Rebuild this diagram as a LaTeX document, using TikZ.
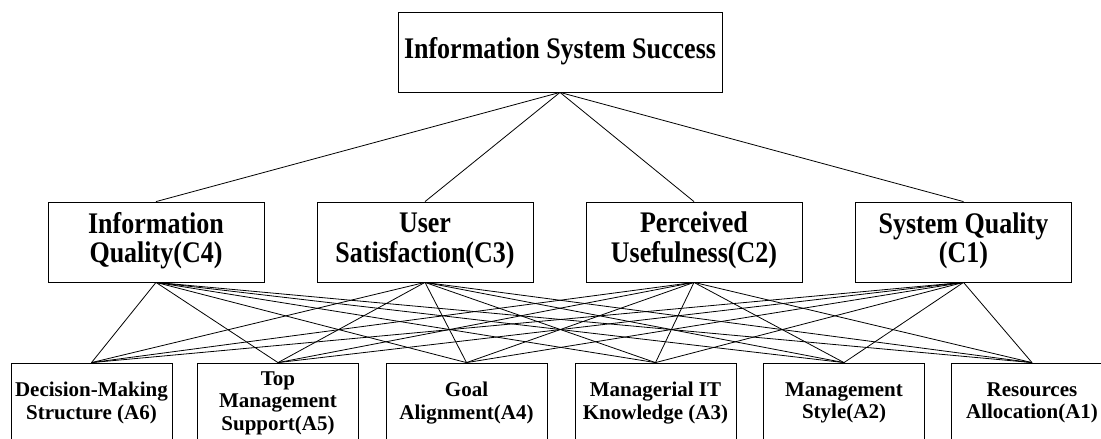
\documentclass[tikz,border=0pt]{standalone}
\usepackage{fontspec}
\setmainfont{Liberation Serif}
\usepackage{graphicx}
\usetikzlibrary{positioning}

% taller lettering of the upper two levels
\newcommand{\tallbox}[1]{\scalebox{1}[1.15]{\begin{tabular}{@{}c@{}}#1\end{tabular}}}

\begin{document}
\begin{tikzpicture}[
        x=1pt, y=-1pt,
        every node/.style={draw, line width=0.8pt, align=center, inner sep=0pt, font=\bfseries},
        topbox/.style={minimum width=324pt, minimum height=80pt, font=\bfseries\fontsize{26}{26}\selectfont},
        crit/.style={minimum width=216pt, minimum height=80pt, font=\bfseries\fontsize{26}{26}\selectfont},
        attr/.style={minimum width=161pt, minimum height=80pt, font=\bfseries\fontsize{21}{22.5}\selectfont}]

        \useasboundingbox (0,0) rectangle (1101,439);

        \node[topbox] (S) at (560,52) {\tallbox{Information System Success}};

        \node[crit] (C4) at (156,242) {\tallbox{Information\\Quality(C4)}};
        \node[crit] (C3) at (425,242) {\tallbox{User\\Satisfaction(C3)}};
        \node[crit] (C2) at (694,242) {\tallbox{Perceived\\Usefulness(C2)}};
        \node[crit] (C1) at (963.5,242) {\tallbox{System Quality\\(C1)}};

        \node[attr] (A6) at (91.5,403) {Decision-Making\\Structure (A6)};
        \node[attr] (A5) at (278,403) {Top\\Management\\Support(A5)};
        \node[attr] (A4) at (466.5,403) {Goal\\Alignment(A4)};
        \node[attr] (A3) at (655.5,403) {Managerial IT\\Knowledge (A3)};
        \node[attr] (A2) at (844,403) {Management\\Style(A2)};
        \node[attr] (A1) at (1032,403) {Resources\\Allocation(A1)};

        \draw[-, line width=0.8pt] (S.south) to (C4.north);
        \draw[-, line width=0.8pt] (S.south) to (C3.north);
        \draw[-, line width=0.8pt] (S.south) to (C2.north);
        \draw[-, line width=0.8pt] (S.south) to (C1.north);

        \draw[-, line width=0.8pt] (C4.south) to (A6.north);
        \draw[-, line width=0.8pt] (C4.south) to (A5.north);
        \draw[-, line width=0.8pt] (C4.south) to (A4.north);
        \draw[-, line width=0.8pt] (C4.south) to (A3.north);
        \draw[-, line width=0.8pt] (C4.south) to (A2.north);
        \draw[-, line width=0.8pt] (C4.south) to (A1.north);

        \draw[-, line width=0.8pt] (C3.south) to (A6.north);
        \draw[-, line width=0.8pt] (C3.south) to (A5.north);
        \draw[-, line width=0.8pt] (C3.south) to (A4.north);
        \draw[-, line width=0.8pt] (C3.south) to (A3.north);
        \draw[-, line width=0.8pt] (C3.south) to (A2.north);
        \draw[-, line width=0.8pt] (C3.south) to (A1.north);

        \draw[-, line width=0.8pt] (C2.south) to (A6.north);
        \draw[-, line width=0.8pt] (C2.south) to (A5.north);
        \draw[-, line width=0.8pt] (C2.south) to (A4.north);
        \draw[-, line width=0.8pt] (C2.south) to (A3.north);
        \draw[-, line width=0.8pt] (C2.south) to (A2.north);
        \draw[-, line width=0.8pt] (C2.south) to (A1.north);

        \draw[-, line width=0.8pt] (C1.south) to (A6.north);
        \draw[-, line width=0.8pt] (C1.south) to (A5.north);
        \draw[-, line width=0.8pt] (C1.south) to (A4.north);
        \draw[-, line width=0.8pt] (C1.south) to (A3.north);
        \draw[-, line width=0.8pt] (C1.south) to (A2.north);
        \draw[-, line width=0.8pt] (C1.south) to (A1.north);

    \end{tikzpicture}
\end{document}
